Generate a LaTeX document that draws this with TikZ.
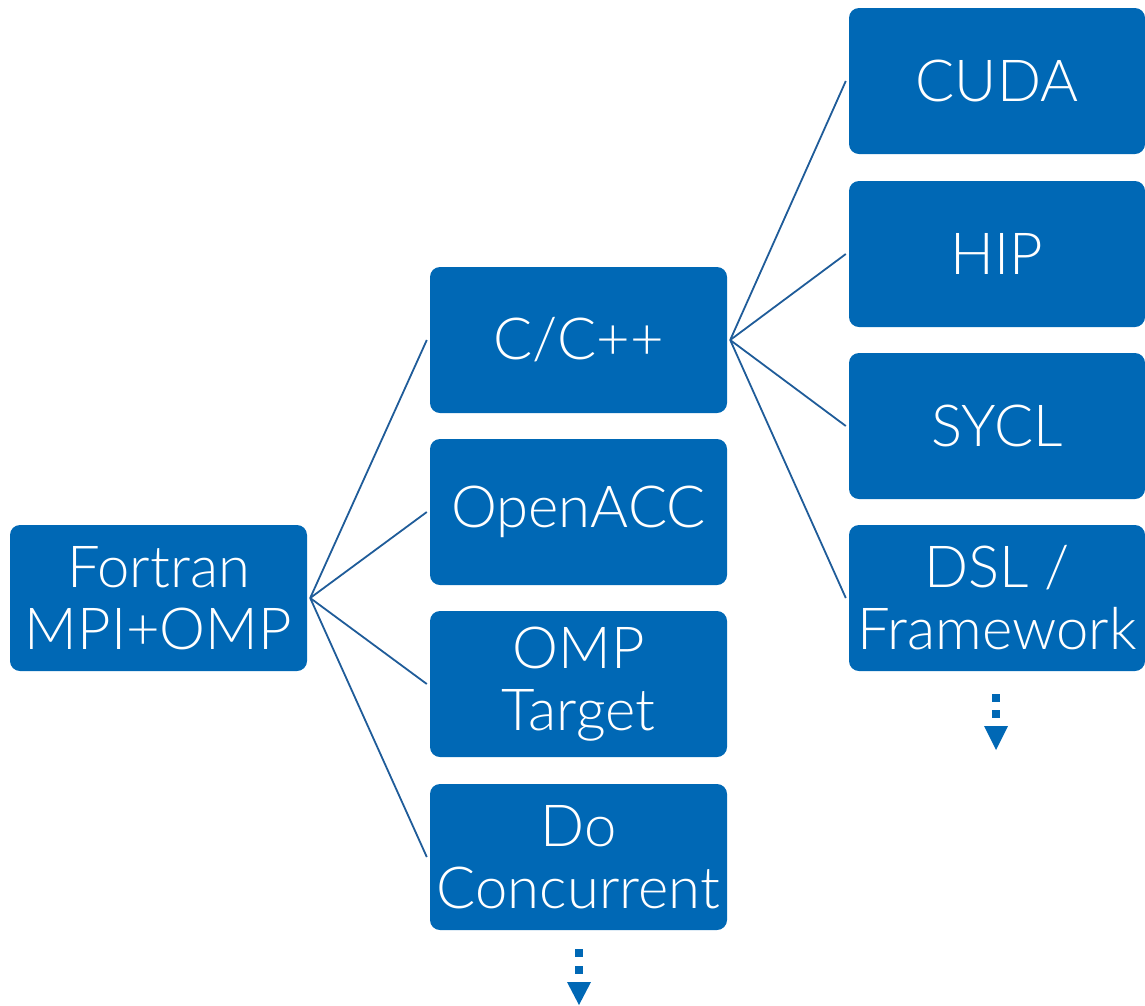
\documentclass[tikz,border=0pt]{standalone}
\usepackage{fontspec}
\setmainfont{Lato}[UprightFont=* Light]
\definecolor{boxblue}{HTML}{0068B5}
\definecolor{linkblue}{HTML}{1F5C99}
\begin{document}
\begin{tikzpicture}[x=1pt,y=-1pt,
  tbox/.style={fill=boxblue,draw=none,rounded corners=10pt,minimum width=297pt,minimum height=146pt,inner sep=0pt,
    text=white,font=\fontsize{58}{62}\selectfont,align=center},
  link/.style={draw=linkblue,line width=1.8pt},
  mark/.style={fill=boxblue}]
\useasboundingbox (0,0) rectangle (1145,1005);
\node[tbox] (fortran) at (158.5,598) {Fortran\\MPI+OMP};
\node[tbox] (cpp) at (578.5,340) {C/C++};
\node[tbox] (acc) at (578.5,512) {OpenACC};
\node[tbox] (omp) at (578.5,684) {OMP\\Target};
\node[tbox] (doc) at (578.5,857) {Do\\Concurrent};
\node[tbox,minimum width=296pt] (cuda) at (997,81) {CUDA};
\node[tbox,minimum width=296pt] (hip) at (997,254) {HIP};
\node[tbox,minimum width=296pt] (sycl) at (997,426) {SYCL};
\node[tbox,minimum width=296pt] (dsl) at (997,598) {DSL /\\Framework};
\coordinate (fr) at ([xshift=3pt]fortran.east);
\coordinate (cr) at ([xshift=3pt]cpp.east);
\foreach \t in {cpp,acc,omp,doc}
  \draw[link] (fr) -- ([xshift=-3pt]\t.west);
\foreach \t in {cuda,hip,sycl,dsl}
  \draw[link] (cr) -- ([xshift=-3pt]\t.west);
% continuation marks
\fill[boxblue] (575,949) rectangle (583,957);
\fill[boxblue] (575,966) rectangle (583,974);
\fill[boxblue] (567,982) -- (591,982) -- (579,1005) -- cycle;
\fill[boxblue] (992,694) rectangle (1000,702);
\fill[boxblue] (992,710) rectangle (1000,718);
\fill[boxblue] (984,726) -- (1008,726) -- (996,750) -- cycle;
\end{tikzpicture}
\end{document}
